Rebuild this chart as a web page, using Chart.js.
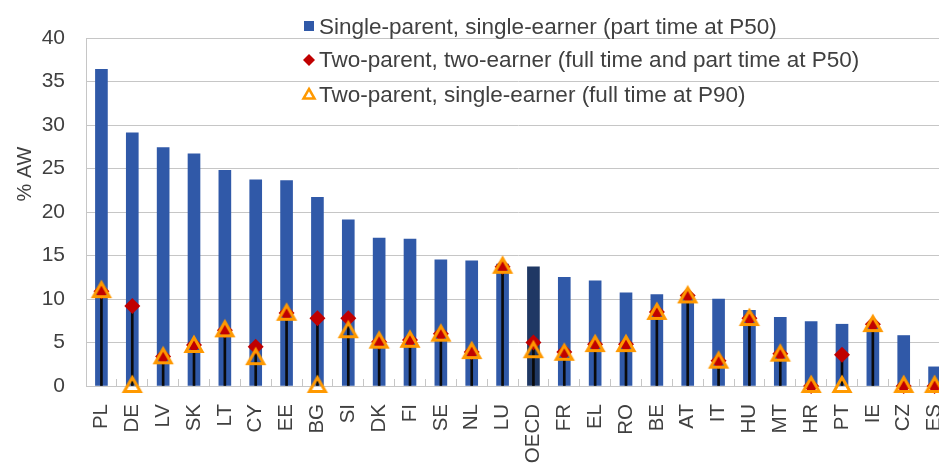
<!DOCTYPE html>
<html>
<head>
<meta charset="utf-8">
<script src="https://cdn.jsdelivr.net/npm/chart.js@4"></script>
<style>
  html, body { margin: 0; padding: 0; background: #fff; overflow: hidden; }
  #wrap { width: 961px; height: 464px; }
</style>
</head>
<body>
<div id="wrap"><canvas id="benefitChart" width="961" height="464"></canvas></div>
<script>
// Categories and values
const countries = ['PL', 'DE', 'LV', 'SK', 'LT', 'CY', 'EE', 'BG', 'SI', 'DK', 'FI', 'SE', 'NL', 'LU',
    'OECD', 'FR', 'EL', 'RO', 'BE', 'AT', 'IT', 'HU', 'MT', 'HR', 'PT', 'IE', 'CZ', 'ES'];
const singleParent = [36.4, 29.1, 27.4, 26.7, 24.8, 23.7, 23.6, 21.7, 19.1, 17.0, 16.9, 14.5, 14.4, 14.0,
    13.7, 12.5, 12.1, 10.7, 10.5, 10.2, 10.0, 8.7, 7.9, 7.4, 7.1, 6.8, 5.8, 2.2];
const twoEarner = [10.9, 9.2, 3.4, 4.7, 6.4, 4.5, 8.4, 7.8, 7.8, 5.1, 5.3, 6.0, 3.9, 13.7,
    5.0, 3.9, 4.8, 4.8, 8.5, 10.4, 2.9, 7.8, 3.7, 0, 3.6, 7.1, 0, 0];
const singleEarner = [10.9, 0, 3.3, 4.6, 6.4, 3.2, 8.3, 0, 6.3, 5.1, 5.2, 5.9, 3.9, 13.7,
    4.0, 3.7, 4.7, 4.7, 8.4, 10.3, 2.8, 7.7, 3.6, 0, 0, 7.0, 0, 0];
const yTicks = [0, 5, 10, 15, 20, 25, 30, 35, 40];
const legendLabels = [
    'Single-parent, single-earner (part time at P50)',
    'Two-parent, two-earner (full time and part time at P50)',
    'Two-parent, single-earner (full time at P90)'
];

const BLUE = '#3059A8';
const NAVY = '#1F3864';
const RED = '#C00000';
const ORANGE = '#FF9900';
const GRID = '#C6C6C6';
const TEXT = '#404040';
const FONT = '"Liberation Sans", Arial, sans-serif';

// Hollow triangle marker, centred on its bounding box
function makeTriangle(size, half, lw) {
    const c = document.createElement('canvas');
    c.width = size;
    c.height = size;
    const g = c.getContext('2d');
    const cx = size / 2;
    const h = half * Math.sqrt(3);
    const top = cx - h / 2 - lw / 2;
    g.strokeStyle = ORANGE;
    g.lineWidth = lw;
    g.lineJoin = 'miter';
    g.beginPath();
    g.moveTo(cx, top);
    g.lineTo(cx + half, top + h);
    g.lineTo(cx - half, top + h);
    g.closePath();
    g.stroke();
    return c;
}
const triMarker = makeTriangle(26, 8, 3);
const triLegend = makeTriangle(18, 5.5, 2.5);

// stem from zero up to the higher marker
const stems = twoEarner.map((v, i) => [0, Math.max(v, singleEarner[i])]);

const extras = {
    id: 'extras',
    afterDraw(chart) {
        const ctx = chart.ctx;
        ctx.save();
        // y axis title
        ctx.fillStyle = TEXT;
        ctx.font = '20px ' + FONT;
        ctx.textAlign = 'center';
        ctx.textBaseline = 'middle';
        ctx.translate(25, 174);
        ctx.rotate(-Math.PI / 2);
        ctx.fillText('% AW', 0, 0);
        ctx.restore();

        // legend
        ctx.save();
        const mx = 309, tx = 319;
        const marks = [26, 60, 95];
        const baselines = [33.5, 67, 101.5];
        ctx.font = '22.5px ' + FONT;
        ctx.textAlign = 'left';
        ctx.textBaseline = 'alphabetic';
        ctx.fillStyle = TEXT;
        legendLabels.forEach((t, i) => ctx.fillText(t, tx, baselines[i]));
        ctx.fillStyle = BLUE;
        ctx.fillRect(mx - 5, marks[0] - 5, 10, 10);
        ctx.fillStyle = RED;
        ctx.beginPath();
        ctx.moveTo(mx, marks[1] - 6);
        ctx.lineTo(mx + 6, marks[1]);
        ctx.lineTo(mx, marks[1] + 6);
        ctx.lineTo(mx - 6, marks[1]);
        ctx.closePath();
        ctx.fill();
        ctx.drawImage(triLegend, mx - 9, marks[2] - 9);
        ctx.restore();
    }
};

const ctx = document.getElementById('benefitChart').getContext('2d');
const chart = new Chart(ctx, {
    type: 'bar',
    data: {
        labels: countries,
        datasets: [
            {
                label: legendLabels[2],
                type: 'line',
                data: singleEarner,
                showLine: false,
                pointStyle: triMarker,
                pointRadius: 10,
                clip: false,
                order: 0
            },
            {
                label: legendLabels[1],
                type: 'line',
                data: twoEarner,
                showLine: false,
                pointStyle: 'rectRot',
                pointRadius: 8,
                pointBackgroundColor: RED,
                pointBorderColor: RED,
                pointBorderWidth: 0,
                clip: false,
                order: 1
            },
            {
                label: 'stem',
                data: stems,
                backgroundColor: '#0A0A0A',
                barThickness: 2,
                grouped: false,
                order: 2
            },
            {
                label: legendLabels[0],
                data: singleParent,
                backgroundColor: countries.map(c => c === 'OECD' ? NAVY : BLUE),
                borderWidth: 0,
                barThickness: 12,
                grouped: false,
                order: 3
            }
        ]
    },
    options: {
        responsive: false,
        animation: false,
        devicePixelRatio: 1,
        layout: { padding: { top: 38, right: 2, left: 0, bottom: 0 } },
        plugins: {
            legend: { display: false },
            tooltip: { enabled: false }
        },
        scales: {
            x: {
                offset: true,
                grid: {
                    offset: true,
                    drawOnChartArea: false,
                    color: GRID,
                    tickLength: -7
                },
                border: { color: GRID, width: 1 },
                ticks: {
                    autoSkip: false,
                    maxRotation: 90,
                    minRotation: 90,
                    padding: 25,
                    color: TEXT,
                    font: { family: FONT, size: 20.5 }
                },
                afterFit: s => {
                    s.height = 78;
                    s.paddingLeft = 0;
                    s.paddingRight = 0;
                }
            },
            y: {
                min: 0,
                max: 40,
                afterBuildTicks: s => { s.ticks = yTicks.map(v => ({ value: v })); },
                grid: { color: GRID, drawTicks: false },
                border: { color: GRID, width: 1 },
                ticks: {
                    padding: 21,
                    color: TEXT,
                    font: { family: FONT, size: 21 }
                },
                afterFit: s => { s.width = 86; }
            }
        }
    },
    plugins: [extras]
});
</script>
</body>
</html>
